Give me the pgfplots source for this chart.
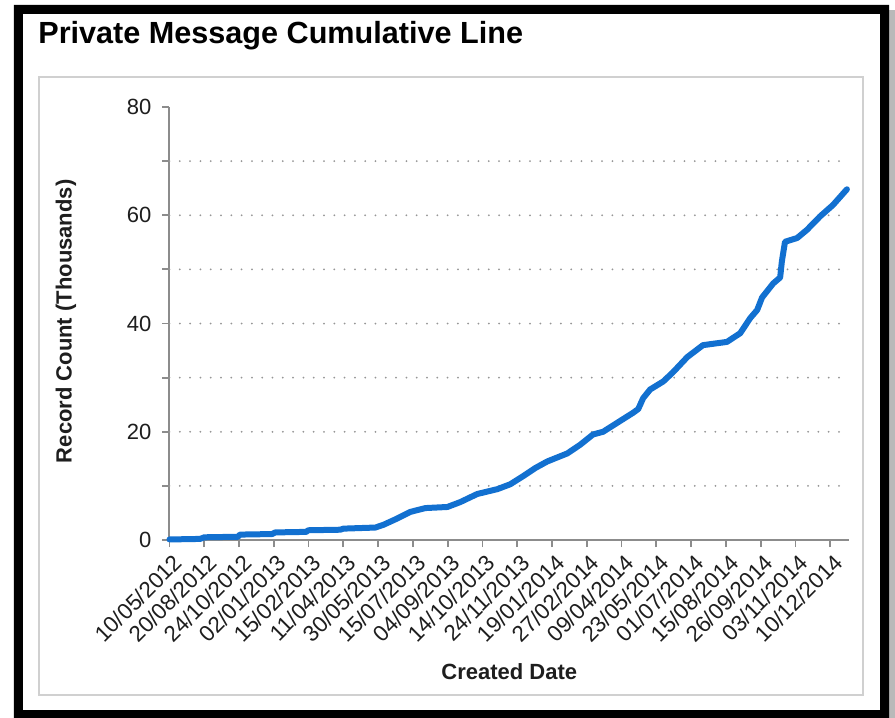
\documentclass[border=0pt]{standalone}
\usepackage{fontspec}
\setmainfont{Liberation Sans}
\usepackage{pgfplots}
\pgfplotsset{compat=1.18}
\definecolor{lineblue}{RGB}{18,112,208}
\definecolor{axgrey}{RGB}{140,140,140}
\definecolor{panelgrey}{RGB}{208,208,208}
\definecolor{dotgrey}{RGB}{150,150,150}
\definecolor{txt}{RGB}{30,30,30}
\begin{document}
\begin{tikzpicture}
\begin{scope}[x=0.5pt,y=-0.5pt,shift={(-84.75pt,270pt)}]
  \useasboundingbox (0,0) rectangle (895,718);
  \fill[white] (0,0) rectangle (895,718);
  \fill[gray!55] (884,10) rectangle (895,718);
  \fill[black, even odd rule] (14,5) rectangle (889,720) (23,14) rectangle (880,710);
  \draw[panelgrey, line width=1pt] (39,77) rectangle (863,695);
  \node[anchor=base west, inner sep=0pt, font=\fontsize{15.3}{17}\selectfont\bfseries, text=black] at (38,44) {Private Message Cumulative Line};
\end{scope}
\begin{axis}[
  at={(0pt,0pt)}, anchor=south west,
  scale only axis, width=339.75pt, height=216.5pt,
  xmin=0, xmax=19.54, ymin=0, ymax=80,
  axis x line*=bottom, axis y line*=left,
  axis line style={axgrey, line width=1pt},
  tick style={axgrey, line width=0.9pt},
  tick align=outside, major tick length=3.5pt,
  xtick={0,...,19},
  xticklabels={10/05/2012,20/08/2012,24/10/2012,02/01/2013,15/02/2013,11/04/2013,30/05/2013,15/07/2013,04/09/2013,14/10/2013,24/11/2013,19/01/2014,27/02/2014,09/04/2014,23/05/2014,01/07/2014,15/08/2014,26/09/2014,03/11/2014,10/12/2014},
  xticklabel style={xshift=5pt, yshift=-5pt, rotate=45, anchor=east, inner sep=1pt, font=\fontsize{11.2}{13}\selectfont, text=txt},
  ytick={0,20,...,80},
  yticklabel style={xshift=-2pt, font=\fontsize{11}{13}\selectfont, text=txt},
  /pgf/number format/assume math mode=true,
  extra y ticks={10,20,30,40,50,60,70},
  extra y tick labels={},
  extra y tick style={grid=major},
  major grid style={dotgrey, line width=1pt, line cap=round, dash pattern=on 0pt off 5.15pt, dash phase=0pt},
  xlabel={Created Date},
  ylabel={Record Count (Thousands)},
  xlabel style={at={(axis description cs:0.5,-0.3049)}, anchor=center, font=\fontsize{11}{13}\selectfont\bfseries, text=txt},
  ylabel style={at={(axis description cs:-0.1523,0.505)}, anchor=center, font=\fontsize{11}{13}\selectfont\bfseries, text=txt},
  clip=false,
]
\addplot[lineblue, line width=3pt, line join=round, line cap=round] coordinates {
(0.00,0.1) (0.88,0.2) (1.00,0.5) (1.97,0.6) (2.03,1.0) (2.95,1.1) (3.04,1.4)
(3.93,1.5) (3.99,1.8) (4.91,1.9) (5.00,2.1) (5.92,2.3) (6.15,2.8) (6.49,3.8)
(6.93,5.2) (7.36,5.9) (7.99,6.1) (8.36,7.0) (8.85,8.5) (9.43,9.4) (9.80,10.3)
(10.17,11.8) (10.52,13.3) (10.86,14.5) (11.44,16.0) (11.81,17.6) (12.18,19.5)
(12.47,20.0) (12.96,22.0) (13.33,23.5) (13.48,24.2) (13.62,26.2) (13.82,27.8)
(14.20,29.3) (14.48,31.0) (14.89,33.8) (15.34,36.0) (16.03,36.6) (16.41,38.2)
(16.70,41.0) (16.90,42.5) (17.04,44.8) (17.36,47.4) (17.56,48.5) (17.61,51.5)
(17.70,55.1) (18.05,55.8) (18.33,57.3) (18.71,59.8) (19.08,61.9) (19.48,64.8)
};
\end{axis}
\end{tikzpicture}
\end{document}
